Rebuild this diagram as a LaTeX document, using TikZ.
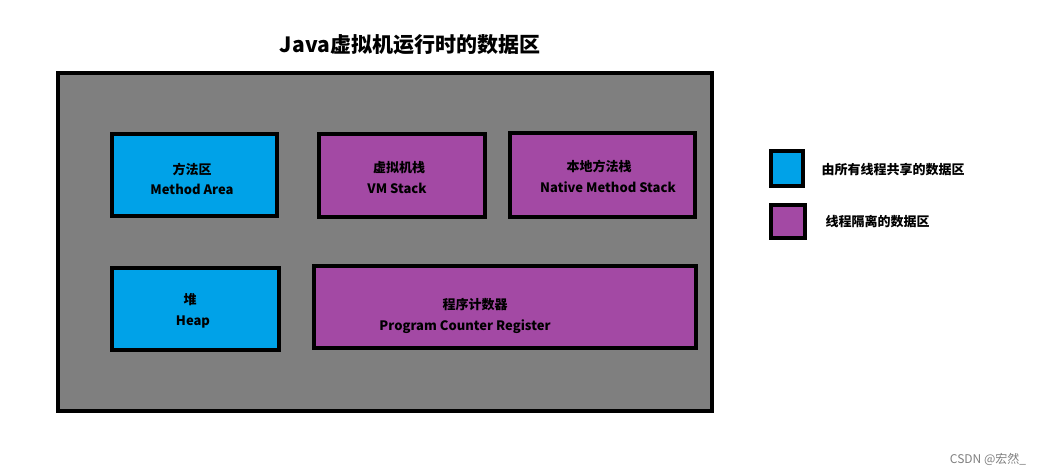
\documentclass[tikz,border=0pt]{standalone}
\usepackage{fontspec}
\setmainfont{Noto Sans CJK SC}
\definecolor{bl}{RGB}{0,162,232}
\definecolor{pu}{RGB}{163,73,164}
\definecolor{gr}{RGB}{127,127,127}
\begin{document}
\begin{tikzpicture}[x=1pt,y=-1pt,
  box/.style={draw=black,line width=3.5pt},
  lab/.style={font=\fontsize{13}{15}\selectfont\bfseries,align=center}]
\useasboundingbox (0,0) rectangle (1045,476);
\fill[white] (0,0) rectangle (1045,476);
\node[font=\fontsize{21}{24}\selectfont\bfseries] (title) at (410,45) {Java虚拟机运行时的数据区};
\draw[box,fill=gr] (58,73) rectangle (712,411);
\draw[box,fill=bl] (112,134) rectangle (277,216);
\draw[box,fill=pu] (319,134) rectangle (485,217);
\draw[box,fill=pu] (510,133) rectangle (695,217);
\draw[box,fill=bl] (112,268) rectangle (279,350);
\draw[box,fill=pu] (314,266) rectangle (696,348);
\node[lab] (a1) at (192,169) {方法区};
\node[lab] (a2) at (192,189) {Method Area};
\node[lab] (b1) at (399,168) {虚拟机栈};
\node[lab] (b2) at (397,188) {VM Stack};
\node[lab] (c1) at (599,166) {本地方法栈};
\node[lab] (c2) at (608,187) {Native Method Stack};
\node[lab] (d1) at (190,300) {堆};
\node[lab] (d2) at (193,322) {Heap};
\node[lab] (e1) at (475,305) {程序计数器};
\node[lab] (e2) at (465,327) {Program Counter Register};
\draw[box,fill=bl] (771,151) rectangle (803,186);
\draw[box,fill=pu] (771,205) rectangle (805,238);
\node[lab,anchor=west] (l1) at (818,170) {由所有线程共享的数据区};
\node[lab,anchor=west] (l2) at (822,222) {线程隔离的数据区};
\node[font=\fontsize{12}{14}\selectfont,text=gray] (wm) at (988,459) {CSDN @宏然\_};
\end{tikzpicture}
\end{document}
